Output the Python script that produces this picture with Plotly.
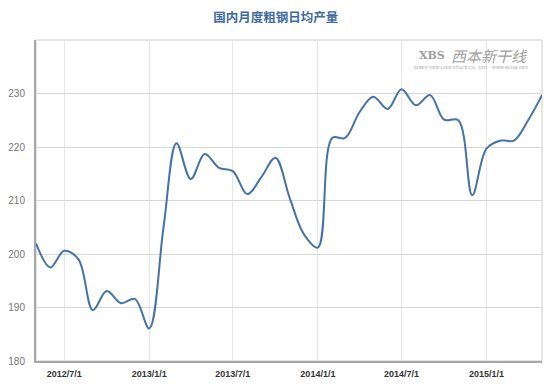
import plotly.graph_objects as go
import pandas as pd

# Monthly data 2012/5 .. 2015/5
months = pd.date_range("2012-05-01", "2015-05-01", freq="MS").strftime("%Y-%m-%d").tolist()
values = [202.0, 197.5, 200.6, 199.0, 189.5, 193.1, 190.8, 191.6, 186.1, 205.0,
          220.7, 214.0, 218.7, 216.1, 215.5, 211.2, 214.4, 218.0, 210.5, 203.8,
          201.2, 221.7, 221.7, 226.5, 229.4, 227.1, 230.8, 227.8, 229.7, 225.1,
          225.0, 211.0, 219.7, 221.2, 221.2, 225.0, 229.7]

x_tickvals = ["2012-07-01", "2013-01-01", "2013-07-01", "2014-01-01", "2014-07-01", "2015-01-01"]
x_ticktext = ["2012/7/1", "2013/1/1", "2013/7/1", "2014/1/1", "2014/7/1", "2015/1/1"]
y_tickvals = [180, 190, 200, 210, 220, 230]

title_text = "国内月度粗钢日均产量"

fig = go.Figure()
fig.add_trace(go.Scatter(
    x=months, y=values, mode="lines",
    line=dict(color="#4572A7", width=2, shape="spline", smoothing=1.0),
    hoverinfo="x+y", showlegend=False,
))

# page body has an 8px margin, so the figure is sized/placed to compensate
fig.update_layout(
    width=550, height=377,
    margin=dict(l=28, r=16, t=32, b=24, autoexpand=False),
    paper_bgcolor="white", plot_bgcolor="white",
    title=dict(text="<b>" + title_text + "</b>", x=0.487, xanchor="center", y=0.974, yanchor="middle",
               font=dict(family="Noto Sans CJK SC", size=12.5, color="#3E6A9E")),
    xaxis=dict(
        type="date", range=["2012-05-01", "2015-05-01"], automargin=False,
        tickvals=x_tickvals, ticktext=[f"<b>{t}</b>" for t in x_ticktext],
        tickfont=dict(family="Liberation Sans", size=9, color="#333333"),
        showgrid=True, gridcolor="#e6e6e6", gridwidth=1,
        showline=True, linecolor="#a8a8a8", linewidth=2,
        ticks="", zeroline=False, ticklabelstandoff=3,
    ),
    yaxis=dict(
        range=[180, 240], tickvals=y_tickvals, automargin=False,
        tickfont=dict(family="Liberation Sans", size=10, color="#777777"),
        showgrid=True, gridcolor="#d8d8d8", gridwidth=1,
        showline=True, linecolor="#a8a8a8", linewidth=2,
        ticks="", zeroline=False, ticklabelstandoff=7,
    ),
    shapes=[dict(type="rect", xref="paper", yref="paper", x0=0, x1=1, y0=0, y1=1,
                 line=dict(color="#cccccc", width=1), layer="below")],
    annotations=[
        dict(text="<i>西本新干线</i>", xref="paper", yref="paper", x=0.976, y=0.953,
             xanchor="right", yanchor="middle", showarrow=False,
             font=dict(family="Noto Sans CJK SC", size=15, color="#a0a0a0")),
        dict(text="<b>XBS</b>", xref="paper", yref="paper", x=0.812, y=0.953,
             xanchor="right", yanchor="middle", showarrow=False,
             font=dict(family="DejaVu Serif", size=11, color="#a0a0a0")),
        dict(text="XIBEN NEW LINE STOCK CO., LTD.   WWW.96369.NET", xref="paper", yref="paper",
             x=0.976, y=0.913, xanchor="right", yanchor="middle", showarrow=False,
             font=dict(family="DejaVu Serif", size=4, color="#a0a0a0")),
    ],
)

fig.write_html("out.html")
